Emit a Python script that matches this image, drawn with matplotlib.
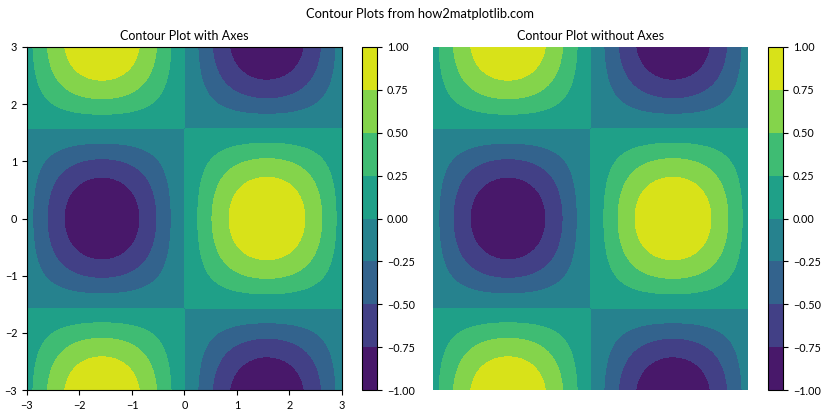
import numpy as np
import matplotlib.pyplot as plt

plt.rcParams['font.family'] = ['Lato', 'DejaVu Sans']
plt.rcParams['font.size'] = 9

# grid and the function shown: z = sin(x) * cos(y)
x = np.linspace(-3, 3, 100)
y = np.linspace(-3, 3, 100)
X, Y = np.meshgrid(x, y)
Z = np.sin(X) * np.cos(Y)

levels = [-1.0, -0.75, -0.5, -0.25, 0.0, 0.25, 0.5, 0.75, 1.0]
titles = ['Contour Plot with Axes', 'Contour Plot without Axes']

fig = plt.figure(figsize=(8.4, 4.2), dpi=100)

ax1 = fig.add_axes([0.0321, 0.0714, 0.375, 0.8167])
cax1 = fig.add_axes([0.431, 0.0714, 0.0179, 0.8167])
ax2 = fig.add_axes([0.5155, 0.0714, 0.375, 0.8167])
cax2 = fig.add_axes([0.9143, 0.0714, 0.0179, 0.8167])

cs1 = ax1.contourf(X, Y, Z, levels=levels, cmap='viridis')
ax1.set_title(titles[0], fontsize=9, pad=5)
fig.colorbar(cs1, cax=cax1)

cs2 = ax2.contourf(X, Y, Z, levels=levels, cmap='viridis')
ax2.set_title(titles[1], fontsize=9, pad=5)
ax2.axis('off')
fig.colorbar(cs2, cax=cax2)

for a in (ax1, cax1, cax2):
    a.tick_params(labelsize=7.8)

fig.suptitle('Contour Plots from how2matplotlib.com', fontsize=9.3, y=0.98)

fig.savefig('out.png', dpi=100)
